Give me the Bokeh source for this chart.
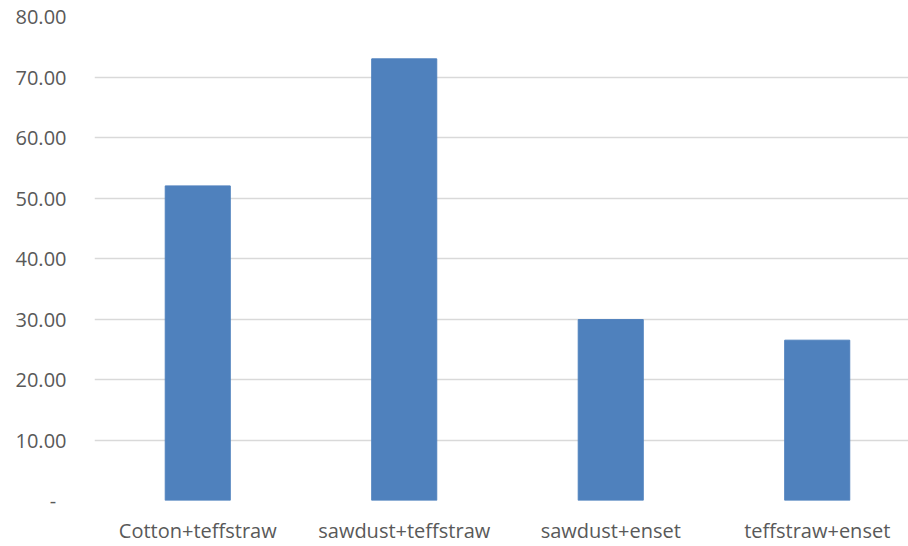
from bokeh.plotting import figure
from bokeh.models import Range1d, FixedTicker, ColumnDataSource
from bokeh.embed import file_html
from bokeh.resources import INLINE

categories = ["Cotton+teffstraw", "sawdust+teffstraw", "sawdust+enset", "teffstraw+enset"]
values = [52.0, 73.0, 29.9, 26.5]
y_ticks = [0, 10, 20, 30, 40, 50, 60, 70, 80]
y_tick_labels = ["-\u00a0\u00a0", "10.00", "20.00", "30.00", "40.00", "50.00", "60.00", "70.00", "80.00"]

positions = list(range(len(categories)))
src = ColumnDataSource(dict(x=positions, top=values, cat=categories))

p = figure(width=908, height=546, output_backend="svg", toolbar_location=None,
           x_range=Range1d(-0.5, 3.442), y_range=Range1d(0, 80),
           min_border_left=94, min_border_right=0, min_border_top=16, min_border_bottom=45)
p.outline_line_color = None
p.background_fill_color = "white"
p.border_fill_color = "white"

p.vbar(x="x", top="top", width=0.315, bottom=0, source=src,
       fill_color="#4f81bd", line_color="#4f81bd")

font = "Open Sans"
label_color = "#595959"

p.xaxis.ticker = FixedTicker(ticks=positions)
p.xaxis.major_label_overrides = {i: c for i, c in zip(positions, categories)}
p.yaxis.ticker = FixedTicker(ticks=y_ticks)
p.yaxis.major_label_overrides = {t: l for t, l in zip(y_ticks, y_tick_labels)}

for ax in (p.xaxis[0], p.yaxis[0]):
    ax.axis_line_color = None
    ax.major_tick_line_color = None
    ax.minor_tick_line_color = None
    ax.major_tick_out = 0
    ax.major_tick_in = 0
    ax.major_label_text_font = font
    ax.major_label_text_font_size = "20px"
    ax.major_label_text_color = label_color

p.xaxis.major_label_standoff = 16
p.yaxis.major_label_standoff = 28

p.xgrid.grid_line_color = None
p.ygrid.grid_line_color = "#d9d9d9"
p.ygrid.grid_line_width = 1.5

open("out.html", "w").write(file_html(p, INLINE))
